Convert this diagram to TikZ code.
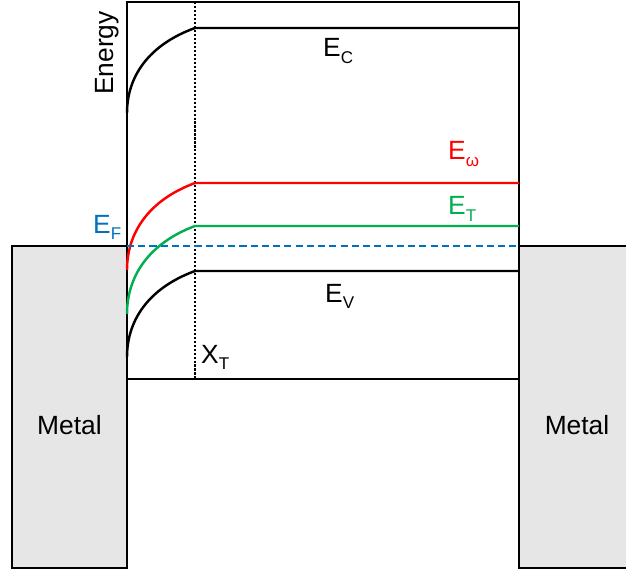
\documentclass[tikz,border=0pt]{standalone}
\usepackage{fontspec}
\setmainfont{Liberation Sans}
\usetikzlibrary{calc}

\definecolor{efblue}{RGB}{0,112,192}
\definecolor{etgreen}{RGB}{0,176,80}
\definecolor{ewred}{RGB}{255,0,0}
\definecolor{metalgray}{RGB}{230,230,230}

\newcommand{\bandsub}[1]{\raisebox{-5.5pt}{\fontsize{14.5}{16}\selectfont #1}}

\begin{document}
\begin{tikzpicture}[
    x=0.03cm, y=-0.03cm,
    line width=2.1pt,
    lbl/.style={anchor=base west, inner sep=0pt, font=\fontsize{22.5}{26}\selectfont},
    metal/.style={fill=metalgray, draw=black},
    band/.style={line width=2.1pt},
    fermi/.style={efblue, line width=2.1pt, dash pattern=on 6pt off 3.6pt},
    depl/.style={line width=2.1pt, dash pattern=on 1.8pt off 1.6pt},
]
\useasboundingbox (0,0) rectangle (626,571);

% metal contacts
\filldraw[metal] (12,246) rectangle (127,568);
\fill[metalgray] (519,246) rectangle (630,568);
\draw (630,246) -- (519,246) -- (519,568) -- (630,568);

% semiconductor
\draw (127,568) -- (127,2) -- (519,2) -- (519,568);
\draw (127,379) -- (519,379);

% depletion edge
\draw[depl] (195,2) -- (195,379);

% bands
\foreach \yl/\yr/\col in {113/28/black, 270/183/ewred, 314/226/etgreen, 357/271/black}
    \draw[band, \col] (127,\yl) .. controls (127,{\yl-0.42*(\yl-\yr)}) and (148,{\yr+0.2*(\yl-\yr)}) .. (195,\yr) -- (519,\yr);

\draw[fermi] (127,246) -- (519,246);

% labels
\node[lbl] (ec) at (322,57)  {E\bandsub{C}};
\node[lbl] (ev) at (324,302) {E\bandsub{V}};
\node[lbl, text=ewred] (ew) at (447,160) {E\bandsub{ω}};
\node[lbl, text=etgreen] (et) at (447,215) {E\bandsub{T}};
\node[lbl, text=efblue] (ef) at (92,233) {E\bandsub{F}};
\node[lbl] (xt) at (200,363) {X\bandsub{T}};
\node[lbl, rotate=90] (energy) at (113,96) {Energy};
\node[lbl] (metalL) at (36,434) {Metal};
\node[lbl, anchor=base] (metalR) at (577,434) {Metal};

\end{tikzpicture}
\end{document}
